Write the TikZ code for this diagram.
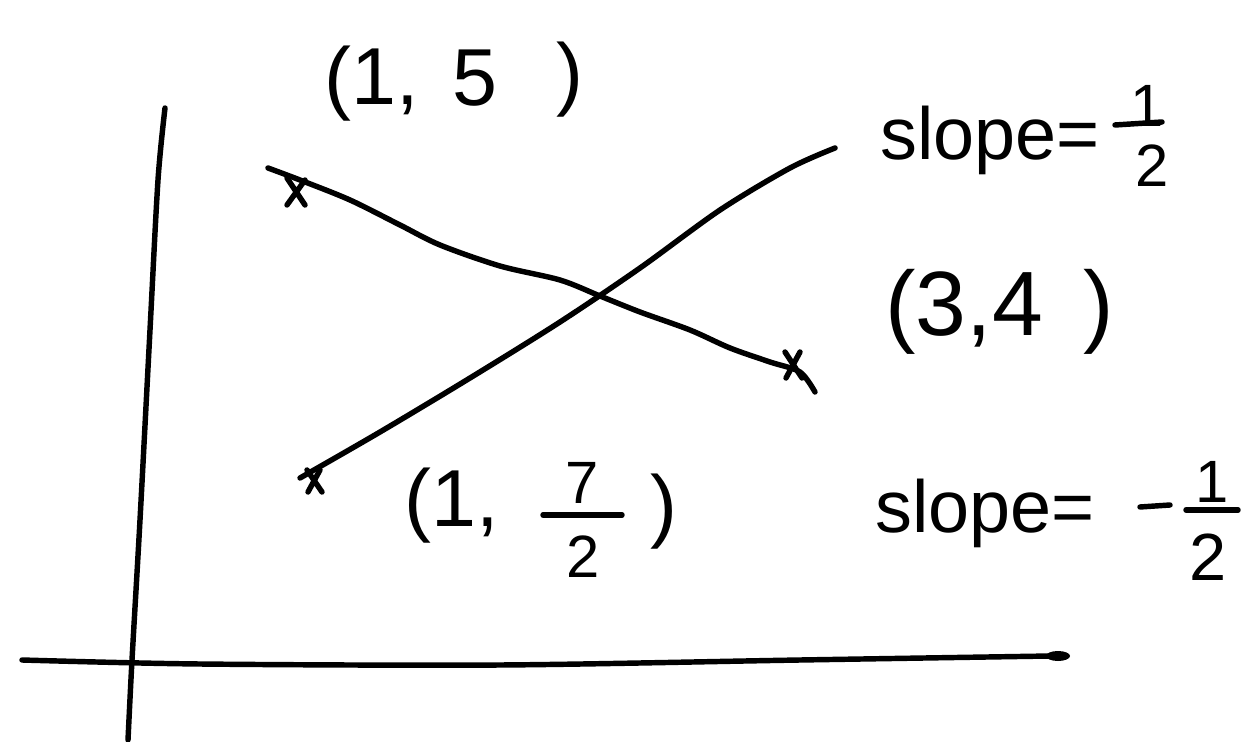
\documentclass[tikz,border=0pt]{standalone}
\usepackage{fontspec}
\setmainfont{Liberation Sans}
\tikzset{
  ink/.style={line width=3.1pt, line cap=round, line join=round, black},
  big/.style={font=\fontsize{46}{52}\selectfont, inner sep=0pt},
  mid/.style={font=\fontsize{42}{48}\selectfont, inner sep=0pt},
  num/.style={font=\fontsize{34}{40}\selectfont, inner sep=0pt},
}
\begin{document}
\begin{tikzpicture}[x=0.02cm,y=-0.02cm]
\useasboundingbox (0,0) rectangle (1246,742);
% axes
\draw[ink] plot[smooth] coordinates {(165,108) (158,180) (150,330) (140,520) (132,660) (128,740)};
\draw[ink] plot[smooth] coordinates {(22,660) (200,664) (500,665) (800,660) (1050,656)};
\fill (1058,656) ellipse (12 and 5);
% decreasing line (wavy)
\draw[ink] plot[smooth] coordinates {(268,168) (300,180) (350,200) (400,225) (440,245) (500,266) (560,280) (600,296) (640,312) (690,330) (730,348) (770,362) (800,372) (815,392)};
% increasing line
\draw[ink] plot[smooth] coordinates {(300,478) (380,432) (470,378) (560,322) (640,268) (720,210) (790,168) (835,148)};
% x marks
\draw[ink] (287,178) -- (305,205) (305,180) -- (287,205);
\draw[ink] (785,352) -- (802,378) (800,352) -- (786,378);
\draw[ink] (307,470) -- (322,492) (320,470) -- (308,492);
% (1,5)
\node[big] (p15a) at (372,84) {(1,};
\node[big] (p15b) at (475,78) {5};
\node[big] (p15c) at (570,80) {)};
% slope = 1/2
\node[mid, anchor=base west] (s1) at (880,160) {slope=};
\node[num] (s1n) at (1147,106) {1};
\coordinate (s1bl) at (1115,125); \coordinate (s1br) at (1162,122);
\draw[ink] (s1bl) -- (s1br);
\node[num] (s1d) at (1152,166) {2};
% (3,4)
\node[font=\fontsize{52}{58}\selectfont, inner sep=0pt] (p34) at (1000,312) {(3,4\hspace{0.45em})};
% (1, 7/2)
\node[big] (p172a) at (452,506) {(1,};
\node[num] (p172n) at (582,483) {7};
\coordinate (p172bl) at (543,515); \coordinate (p172br) at (622,515);
\draw[ink] (p172bl) -- (p172br);
\node[num] (p172d) at (583,557) {2};
\node[big] (p172c) at (664,512) {)};
% slope = -1/2
\node[mid, anchor=base west] (s2) at (875,532) {slope=};
\coordinate (m1) at (1140,507); \coordinate (m2) at (1170,505);
\draw[ink] (m1) -- (m2);
\node[num] (s2n) at (1212,482) {1};
\coordinate (s2bl) at (1186,510); \coordinate (s2br) at (1238,510);
\draw[ink] (s2bl) -- (s2br);
\node[font=\fontsize{38}{44}\selectfont, inner sep=0pt] (s2d) at (1208,557) {2};
\end{tikzpicture}
\end{document}
